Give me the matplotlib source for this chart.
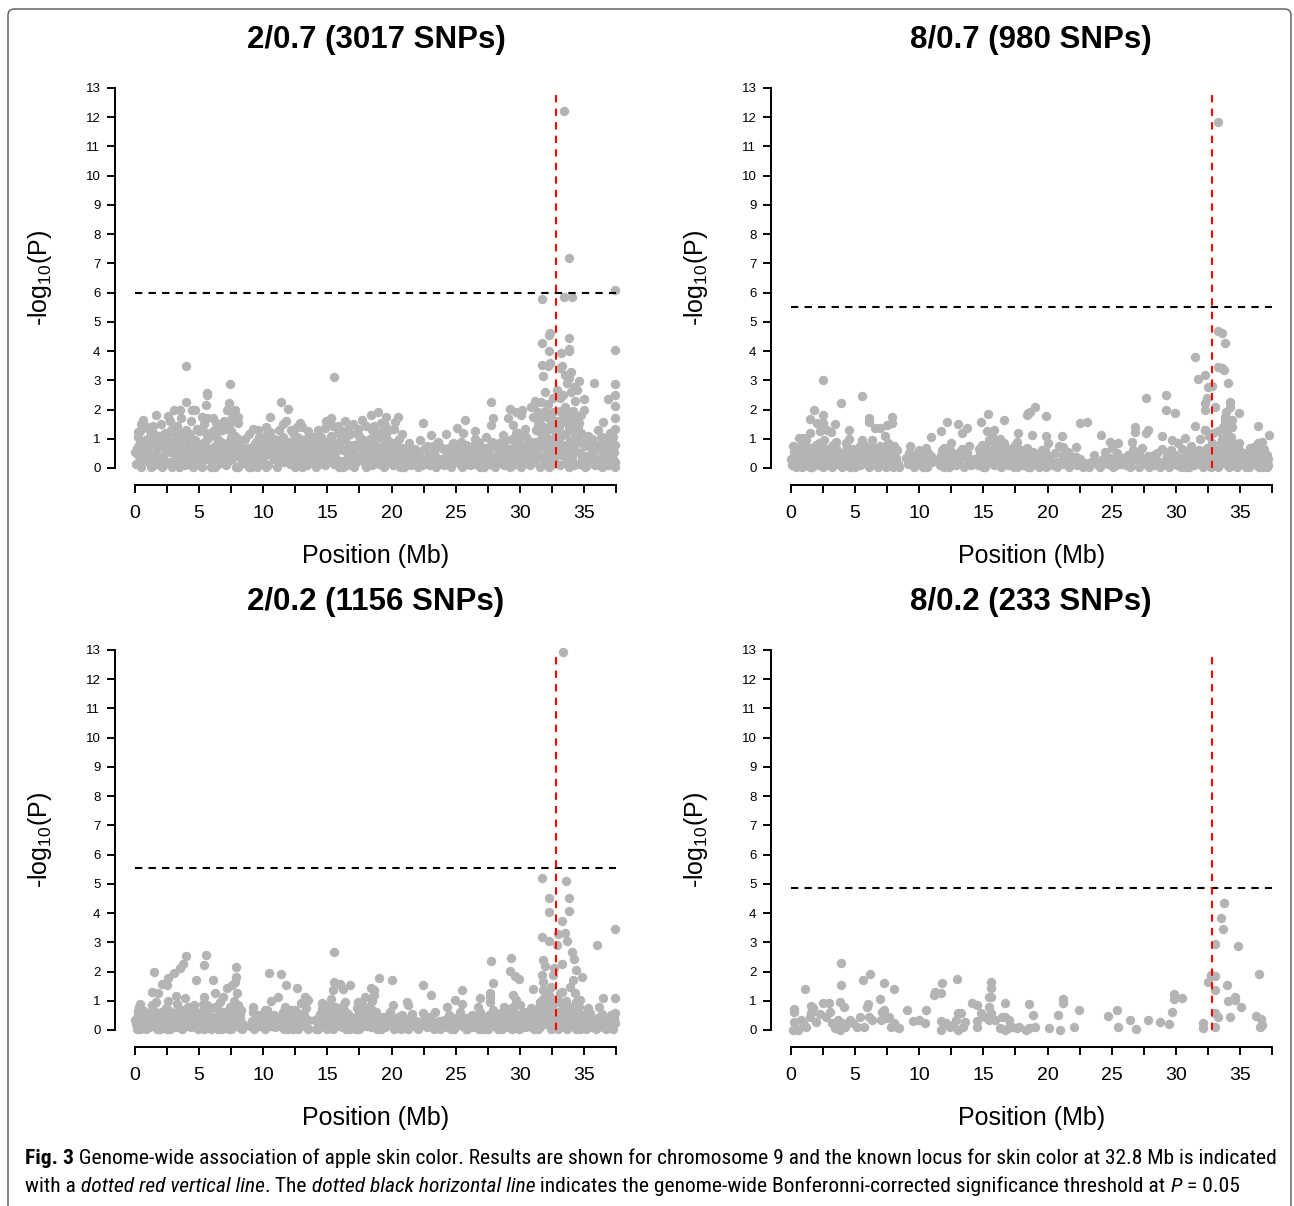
import matplotlib
matplotlib.use("Agg")
import matplotlib.pyplot as plt
from matplotlib import font_manager as fm
from matplotlib.patches import FancyBboxPatch
from matplotlib.ticker import MultipleLocator

W, H = 1294, 1206

plt.rcParams["font.family"] = ["Liberation Sans", "DejaVu Sans"]
plt.rcParams["mathtext.fontset"] = "custom"
plt.rcParams["mathtext.rm"] = "Liberation Sans"
plt.rcParams["mathtext.default"] = "regular"

GREY = "#b4b4b4"
LOCUS_MB = 32.8     # known skin colour locus
LOCUS_TOP = 12.9    # the red line stops just under the top tick

titles = ["2/0.7 (3017 SNPs)", "8/0.7 (980 SNPs)", "2/0.2 (1156 SNPs)", "8/0.2 (233 SNPs)"]
thresholds = [5.99, 5.50, 5.55, 4.87]

# (position Mb, -log10 P)
snps_2_07 = [
    (0.1, 0.15), (0.2, 0.45), (0.3, 0.8), (0.5, 0.05), (0.6, 0.3), (0.8, 0.6), (0.9, 1.0), (0.4, 1.25),
    (1.1, 0.2), (1.2, 0.5), (1.3, 0.9), (1.5, 0.1), (1.6, 0.35), (1.7, 0.7), (1.9, 1.1), (1.8, 0.25), (1.4, 1.45),
    (2.1, 0.05), (2.2, 0.4), (2.3, 0.75), (2.5, 1.05), (2.6, 0.2), (2.7, 0.55), (2.9, 0.9), (2.8, 1.3),
    (3.1, 0.15), (3.2, 0.5), (3.3, 0.85), (3.5, 1.2), (3.6, 0.3), (3.7, 0.65), (3.9, 0.1), (3.8, 1.0),
    (4.1, 0.4), (4.2, 0.8), (4.3, 1.15), (4.5, 0.05), (4.6, 0.55), (4.7, 0.95), (4.9, 0.25), (4.8, 1.35), (4.4, 1.6),
    (5.1, 0.1), (5.2, 0.45), (5.3, 0.85), (5.5, 1.2), (5.6, 0.3), (5.7, 0.7), (5.9, 0.05), (5.8, 1.05), (5.4, 1.5),
    (6.1, 0.35), (6.2, 0.75), (6.3, 1.1), (6.5, 0.15), (6.6, 0.55), (6.7, 0.9), (6.9, 0.25), (6.8, 1.3),
    (7.1, 0.1), (7.2, 0.5), (7.3, 0.9), (7.5, 1.25), (7.6, 0.3), (7.7, 0.7), (7.9, 0.05), (7.8, 1.1), (7.4, 1.55), (7.6, 1.75),
    (8.1, 0.4), (8.2, 0.8), (8.3, 0.15), (8.5, 0.6), (8.6, 1.0), (8.7, 0.3), (8.9, 0.05), (8.8, 0.7),
    (9.1, 0.2), (9.2, 0.55), (9.4, 0.9), (9.5, 0.05), (9.6, 0.35), (9.8, 0.7), (9.9, 0.15), (9.7, 1.05),
    (10.1, 0.45), (10.2, 0.8), (10.4, 0.1), (10.5, 0.6), (10.6, 0.95), (10.8, 0.3), (10.9, 0.7), (10.3, 1.15),
    (11.1, 0.05), (11.2, 0.4), (11.3, 0.75), (11.5, 1.05), (11.6, 0.2), (11.7, 0.6), (11.9, 0.9), (11.8, 0.3),
    (12.1, 0.15), (12.2, 0.5), (12.4, 0.85), (12.5, 0.05), (12.6, 0.35), (12.8, 0.7), (12.9, 1.0), (12.3, 1.2),
    (13.1, 0.3), (13.2, 0.65), (13.4, 0.1), (13.5, 0.45), (13.6, 0.8), (13.8, 0.2), (13.9, 0.55), (13.3, 1.0),
    (14.1, 0.05), (14.2, 0.4), (14.3, 0.75), (14.5, 1.05), (14.6, 0.2), (14.7, 0.6), (14.9, 0.9), (14.8, 0.1),
    (15.1, 0.35), (15.2, 0.7), (15.3, 1.1), (15.5, 0.15), (15.6, 0.5), (15.7, 0.85), (15.9, 0.05), (15.8, 1.2), (15.4, 1.45),
    (16.1, 0.25), (16.2, 0.6), (16.3, 0.95), (16.5, 0.1), (16.6, 0.45), (16.7, 0.8), (16.9, 0.2), (16.8, 1.15),
    (17.1, 0.05), (17.2, 0.4), (17.3, 0.75), (17.5, 1.1), (17.6, 0.3), (17.7, 0.65), (17.9, 0.15), (17.8, 0.95), (17.4, 1.35),
    (18.1, 0.25), (18.2, 0.6), (18.3, 1.0), (18.5, 0.1), (18.6, 0.45), (18.7, 0.8), (18.9, 0.2), (18.8, 1.2),
    (19.1, 0.35), (19.2, 0.7), (19.4, 0.05), (19.5, 0.5), (19.6, 1.05), (19.8, 0.25), (19.9, 0.6), (19.3, 1.3),
    (20.1, 0.1), (20.2, 0.45), (20.4, 0.8), (20.5, 0.2), (20.7, 0.55), (20.9, 0.05), (20.6, 1.0),
    (21.1, 0.3), (21.3, 0.6), (21.5, 0.1), (21.7, 0.4), (21.9, 0.2), (21.4, 0.85),
    (22.1, 0.05), (22.3, 0.35), (22.5, 0.65), (22.7, 0.15), (22.9, 0.45), (22.2, 0.95),
    (23.1, 0.25), (23.3, 0.55), (23.5, 0.05), (23.7, 0.3), (23.9, 0.7), (23.6, 0.9),
    (24.1, 0.1), (24.3, 0.4), (24.5, 0.7), (24.7, 0.2), (24.9, 0.5), (24.4, 0.15),
    (25.1, 0.3), (25.2, 0.6), (25.4, 0.9), (25.5, 0.05), (25.7, 0.4), (25.9, 0.2), (25.6, 1.2),
    (26.1, 0.1), (26.3, 0.5), (26.4, 0.8), (26.6, 0.25), (26.8, 0.6), (26.9, 0.05), (26.5, 1.0),
    (27.1, 0.35), (27.3, 0.7), (27.5, 0.15), (27.6, 0.5), (27.8, 0.9), (27.9, 0.25),
    (28.1, 0.05), (28.2, 0.4), (28.4, 0.75), (28.5, 0.2), (28.7, 0.55), (28.9, 0.95), (28.8, 0.1),
    (29.1, 0.3), (29.2, 0.65), (29.4, 1.0), (29.5, 0.1), (29.6, 0.45), (29.8, 0.8), (29.9, 0.2), (29.7, 1.2),
    (30.1, 0.05), (30.2, 0.4), (30.3, 0.75), (30.5, 1.05), (30.6, 0.25), (30.7, 0.6), (30.9, 0.9), (30.8, 0.1), (30.4, 1.35),
    (31.1, 0.2), (31.2, 0.55), (31.3, 0.9), (31.5, 1.25), (31.6, 0.05), (31.7, 0.4), (31.9, 0.75), (31.8, 1.1), (31.4, 1.5), (31.6, 1.7),
    (32.1, 0.3), (32.2, 0.65), (32.3, 1.0), (32.5, 1.35), (32.6, 0.15), (32.7, 0.5), (32.9, 0.85), (32.8, 1.2), (32.4, 1.65), (32.6, 1.9),
    (33.1, 0.1), (33.2, 0.45), (33.3, 0.8), (33.5, 1.15), (33.6, 0.25), (33.7, 0.6), (33.9, 0.95), (33.8, 1.3), (33.4, 1.6), (33.6, 1.85), (33.5, 2.1),
    (34.1, 0.35), (34.2, 0.7), (34.3, 1.05), (34.5, 1.4), (34.6, 0.15), (34.7, 0.5), (34.9, 0.85), (34.8, 1.2), (34.4, 1.7),
    (35.1, 0.05), (35.2, 0.4), (35.4, 0.75), (35.5, 0.2), (35.7, 0.55), (35.9, 0.1), (35.6, 0.9),
    (36.1, 0.3), (36.2, 0.65), (36.4, 0.05), (36.5, 0.45), (36.7, 0.2), (36.9, 0.6), (36.8, 1.0),
    (37.1, 0.15), (37.2, 0.5), (37.3, 0.3), (37.4, 0.8), (37.3, 1.05), (37.4, 0.05),
    (0.9, 1.4), (1.2, 1.25), (2.0, 1.5), (2.3, 1.2), (3.3, 1.45), (4.0, 1.3), (5.0, 1.25), (6.5, 1.45),
    (6.9, 1.6), (0.5, 1.5), (2.7, 1.6), (3.6, 1.7), (5.2, 1.75), (6.3, 1.55), (7.0, 1.35),
    (14.3, 1.3), (15.0, 1.5), (15.8, 1.45), (16.6, 1.35), (17.0, 1.5), (17.3, 1.2), (18.0, 1.45),
    (18.5, 1.3), (19.2, 1.55), (19.8, 1.3), (20.2, 1.35),
    (9.6, 1.3), (10.2, 1.4), (11.5, 1.5), (12.2, 1.3), (13.5, 1.25), (12.9, 1.55),
    (3.97, 3.49), (7.38, 2.87), (15.5, 3.1), (5.6, 2.56), (5.6, 2.5), (3.97, 2.27), (5.5, 2.16),
    (3.07, 1.98), (3.5, 1.98), (4.7, 2.0), (4.45, 1.98), (7.35, 2.24), (7.8, 2.0), (7.15, 1.97),
    (11.4, 2.27), (11.9, 2.02), (10.5, 1.73), (11.8, 1.61), (9.2, 1.33), (1.6, 1.83), (2.55, 1.78),
    (0.65, 1.64), (0.27, 1.24), (6.1, 1.72), (5.6, 1.72), (8.0, 1.76), (8.0, 1.53), (15.3, 1.7),
    (14.9, 1.6), (16.4, 1.6), (14.8, 1.37), (16.0, 1.3), (17.7, 1.64), (18.4, 1.81), (12.6, 1.41),
    (13.0, 1.41), (10.5, 1.22), (11.25, 1.3),
    (22.46, 1.53), (23.1, 1.13), (24.25, 1.16), (20.8, 1.15), (18.97, 1.9), (19.6, 1.76), (20.5, 1.76),
    (18.6, 1.42), (19.5, 1.48), (20.3, 1.59), (25.1, 1.36), (26.5, 1.25), (28.7, 1.13), (29.85, 1.19),
    (27.75, 2.26), (27.9, 1.7), (27.75, 1.47), (25.7, 1.64), (29.2, 2.02), (29.1, 1.7), (29.5, 1.47),
    (29.7, 1.92), (30.2, 1.98), (30.1, 1.81), (30.9, 2.1), (31.1, 2.16), (31.65, 2.27), (31.4, 1.92),
    (33.46, 12.2), (33.85, 7.2), (37.46, 6.1), (31.75, 5.78), (33.46, 5.86), (34.04, 5.86),
    (32.35, 4.61), (32.3, 4.55), (31.75, 4.27), (33.85, 4.46), (33.85, 4.07), (33.85, 4.0),
    (33.25, 3.92), (32.27, 4.01), (37.46, 4.04), (31.75, 3.52), (32.35, 3.58), (32.2, 3.49),
    (33.1, 3.41), (33.3, 3.49), (31.83, 3.16), (33.5, 3.19), (34.0, 3.3), (33.85, 3.09),
    (34.65, 2.98), (34.2, 2.78), (34.45, 2.67), (35.8, 2.9), (37.46, 2.86), (37.46, 2.5),
    (37.4, 2.12), (36.9, 2.35), (37.4, 1.7), (37.46, 1.35), (36.5, 1.58), (32.0, 2.61),
    (32.9, 2.67), (32.55, 2.38), (33.1, 2.38), (35.0, 2.35), (35.0, 1.99), (36.1, 1.3), (36.4, 1.07),
    (33.7, 2.9), (34.0, 2.6), (33.4, 2.5), (32.2, 2.2), (34.3, 2.3), (31.2, 2.3), (31.0, 1.75),
    (32.0, 1.95), (33.0, 1.6), (34.8, 1.8),
]

# more of the dense low band in 2/0.7
snps_2_07_band = [
    (0.0, 0.55), (0.25, 1.05), (0.45, 0.25), (0.65, 0.9), (0.85, 0.35), (0.15, 0.7),
    (1.0, 0.75), (1.25, 0.05), (1.45, 1.15), (1.65, 0.5), (1.85, 0.85), (1.05, 0.45),
    (2.0, 0.3), (2.25, 0.95), (2.45, 0.6), (2.65, 1.2), (2.85, 0.05), (2.35, 0.15),
    (3.0, 0.7), (3.25, 1.1), (3.45, 0.05), (3.65, 0.95), (3.85, 0.4), (3.15, 0.3),
    (4.0, 0.6), (4.25, 0.2), (4.45, 0.9), (4.65, 0.3), (4.85, 0.7), (4.05, 1.0),
    (5.0, 0.8), (5.25, 0.05), (5.45, 0.6), (5.65, 1.0), (5.85, 0.45), (5.05, 0.3),
    (6.0, 0.55), (6.25, 0.05), (6.45, 0.95), (6.65, 0.35), (6.85, 0.75), (6.05, 1.25),
    (7.0, 0.7), (7.25, 0.25), (7.45, 1.05), (7.65, 0.55), (7.85, 0.85), (7.05, 0.35),
    (8.0, 1.0), (8.25, 0.6), (8.45, 0.25), (8.65, 0.45), (8.85, 1.15), (8.05, 0.05),
    (9.0, 0.45), (9.25, 0.8), (9.45, 0.25), (9.65, 0.6), (9.85, 1.0), (9.05, 0.05),
    (10.0, 0.25), (10.25, 0.05), (10.45, 0.9), (10.65, 0.4), (10.85, 1.0), (10.05, 0.65),
    (11.0, 0.5), (11.25, 0.95), (11.45, 0.25), (11.65, 0.9), (11.85, 0.55), (11.05, 0.75),
    (12.0, 0.6), (12.25, 0.3), (12.45, 0.65), (12.65, 1.05), (12.85, 0.25), (12.05, 0.9),
    (13.0, 0.05), (13.25, 0.85), (13.45, 0.6), (13.65, 0.35), (13.85, 1.05), (13.05, 0.5),
    (14.0, 0.6), (14.25, 0.15), (14.45, 0.5), (14.65, 0.85), (14.85, 0.4), (14.05, 1.0),
    (15.0, 0.55), (15.25, 0.25), (15.45, 0.9), (15.65, 0.3), (15.85, 0.65), (15.05, 0.9),
    (16.0, 0.7), (16.25, 0.05), (16.45, 1.05), (16.65, 0.25), (16.85, 0.6), (16.05, 1.1),
    (17.0, 0.55), (17.25, 0.2), (17.45, 0.85), (17.65, 1.0), (17.85, 0.45), (17.05, 0.8),
    (18.0, 0.05), (18.25, 0.9), (18.45, 0.35), (18.65, 1.1), (18.85, 0.55), (18.05, 0.75),
    (19.0, 0.15), (19.25, 0.5), (19.45, 0.85), (19.65, 0.2), (19.85, 0.9), (19.05, 1.05),
    (20.0, 0.6), (20.25, 0.85), (20.45, 0.35), (20.65, 0.05), (20.85, 0.7), (20.05, 0.3),
    (21.0, 0.05), (21.25, 0.45), (21.6, 0.2), (21.8, 0.65),
    (22.0, 0.5), (22.4, 0.1), (22.6, 0.3), (22.8, 0.75),
    (23.0, 0.1), (23.4, 0.4), (23.8, 0.2), (23.2, 0.75),
    (24.0, 0.3), (24.2, 0.6), (24.6, 0.05), (24.8, 0.85),
    (25.0, 0.7), (25.3, 0.15), (25.6, 0.55), (25.8, 0.8), (25.35, 0.45),
    (26.0, 0.35), (26.2, 0.7), (26.45, 0.15), (26.7, 0.4), (26.85, 0.9),
    (27.0, 0.6), (27.2, 0.05), (27.45, 0.3), (27.7, 0.75), (27.85, 0.1), (27.4, 1.05),
    (28.0, 0.3), (28.3, 0.6), (28.55, 0.9), (28.65, 0.35), (28.85, 0.7), (28.0, 0.85),
    (29.0, 0.5), (29.25, 0.05), (29.45, 0.7), (29.65, 0.25), (29.85, 0.95), (29.3, 0.35),
    (30.0, 0.65), (30.25, 0.15), (30.45, 0.5), (30.65, 0.85), (30.85, 0.35), (30.15, 1.15),
    (31.0, 0.85), (31.25, 0.35), (31.45, 0.7), (31.65, 1.0), (31.85, 0.25), (31.05, 0.55), (31.3, 1.3), (31.75, 1.45),
    (32.0, 0.45), (32.25, 0.05), (32.45, 0.8), (32.65, 0.3), (32.85, 1.05), (32.05, 1.25), (32.35, 1.45),
    (32.75, 1.6), (32.15, 1.75),
    (33.0, 0.65), (33.25, 1.1), (33.45, 0.4), (33.65, 0.8), (33.85, 0.05), (33.05, 1.4), (33.35, 1.85),
    (33.75, 1.5), (33.95, 1.75), (33.15, 1.95),
    (34.0, 0.55), (34.25, 0.1), (34.45, 0.9), (34.65, 1.1), (34.85, 0.3), (34.05, 1.3), (34.35, 1.5),
    (34.6, 1.55), (34.15, 1.95),
    (35.0, 0.75), (35.25, 0.1), (35.45, 0.45), (35.65, 1.0), (35.85, 0.3), (35.3, 1.1),
    (36.0, 0.8), (36.25, 0.15), (36.45, 0.85), (36.65, 0.4), (36.85, 0.1), (36.3, 1.05),
    (37.0, 0.4), (37.15, 0.85), (37.35, 0.55), (37.45, 0.2), (37.05, 1.2),
]

snps_8_07 = [
    (0.1, 0.1), (0.3, 0.35), (0.5, 0.6), (0.7, 0.2), (0.9, 0.45), (0.4, 0.05), (0.8, 0.8),
    (1.1, 0.15), (1.3, 0.4), (1.5, 0.7), (1.6, 0.05), (1.8, 0.3), (1.9, 0.55), (1.2, 0.95),
    (2.1, 0.2), (2.3, 0.5), (2.5, 0.05), (2.6, 0.3), (2.8, 0.65), (2.9, 0.1), (2.2, 0.85),
    (3.1, 0.4), (3.2, 0.05), (3.4, 0.25), (3.6, 0.6), (3.7, 0.15), (3.9, 0.45), (3.5, 0.9),
    (4.1, 0.1), (4.3, 0.35), (4.4, 0.7), (4.6, 0.05), (4.7, 0.5), (4.9, 0.2), (4.5, 1.0),
    (5.1, 0.3), (5.2, 0.6), (5.4, 0.1), (5.6, 0.4), (5.8, 0.75), (5.9, 0.15), (5.5, 0.95),
    (6.1, 0.05), (6.2, 0.45), (6.4, 0.2), (6.5, 0.7), (6.7, 0.3), (6.9, 0.55), (6.6, 0.1), (6.3, 0.95),
    (7.1, 0.25), (7.2, 0.65), (7.4, 0.05), (7.5, 0.4), (7.7, 0.15), (7.9, 0.55), (7.6, 0.85), (7.3, 1.1),
    (8.1, 0.1), (8.2, 0.35), (8.3, 0.6), (8.4, 0.05),
    (9.1, 0.15), (9.2, 0.5), (9.3, 0.75), (9.6, 0.05), (9.8, 0.3), (9.4, 0.25),
    (10.0, 0.6), (10.2, 0.15), (10.4, 0.4), (10.6, 0.05), (10.8, 0.3), (10.5, 0.7), (11.0, 0.2),
    (11.6, 0.1), (11.7, 0.45), (11.9, 0.7), (11.8, 0.2),
    (12.1, 0.35), (12.3, 0.05), (12.4, 0.6), (12.6, 0.2), (12.8, 0.45), (12.9, 0.1), (12.5, 0.85),
    (13.1, 0.3), (13.3, 0.65), (13.5, 0.05), (13.6, 0.4), (13.8, 0.15), (13.9, 0.75), (14.0, 0.3),
    (14.6, 0.1), (14.7, 0.45), (14.9, 0.8), (14.8, 0.25),
    (15.1, 0.05), (15.2, 0.35), (15.3, 0.65), (15.4, 0.95), (15.5, 0.2), (15.6, 0.5), (15.8, 0.1),
    (15.9, 0.75), (15.7, 1.1), (15.3, 1.25),
    (16.1, 0.3), (16.2, 0.6), (16.4, 0.05), (16.5, 0.4), (16.6, 0.85), (16.8, 0.15), (16.9, 0.55), (16.3, 1.0),
    (17.1, 0.25), (17.2, 0.7), (17.4, 0.05), (17.5, 0.45), (17.7, 0.2), (17.9, 0.6), (17.6, 0.9),
    (18.1, 0.1), (18.2, 0.4), (18.4, 0.7), (18.6, 0.05), (18.7, 0.3), (18.9, 0.55), (18.5, 0.2),
    (19.2, 0.15), (19.4, 0.45), (19.6, 0.25), (19.8, 0.6), (19.9, 0.05),
    (20.2, 0.3), (20.4, 0.1), (20.6, 0.5), (20.8, 0.2), (20.9, 0.75),
    (21.3, 0.15), (21.5, 0.35), (21.7, 0.05), (21.9, 0.25), (21.6, 0.55),
    (22.3, 0.1), (22.5, 0.3), (22.8, 0.05),
    (23.4, 0.2), (23.6, 0.45), (23.9, 0.1),
    (24.3, 0.3), (24.5, 0.55), (24.7, 0.15), (24.9, 0.35),
    (25.1, 0.05), (25.2, 0.25), (25.4, 0.5), (25.7, 0.15), (25.9, 0.35),
    (26.1, 0.1), (26.3, 0.45), (26.5, 0.2), (26.7, 0.6), (26.8, 0.3), (26.6, 0.9),
    (27.1, 0.05), (27.3, 0.25), (27.4, 0.7), (27.6, 0.15), (27.8, 0.4), (27.9, 0.05),
    (28.2, 0.3), (28.4, 0.1), (28.5, 0.5), (28.7, 0.2), (28.9, 0.65),
    (29.1, 0.15), (29.3, 0.4), (29.5, 0.05), (29.6, 0.6), (29.8, 0.25), (29.9, 0.45),
    (30.1, 0.1), (30.3, 0.35), (30.5, 0.65), (30.6, 0.2), (30.8, 0.05), (30.9, 0.5),
    (31.1, 0.3), (31.2, 0.75), (31.4, 0.1), (31.5, 0.45), (31.7, 0.2), (31.8, 0.6), (31.9, 1.0),
    (32.1, 0.05), (32.2, 0.35), (32.4, 0.7), (32.5, 0.15), (32.6, 1.1), (32.7, 0.45), (32.9, 0.25),
    (32.3, 1.3), (32.8, 0.85),
    (33.1, 0.6), (33.2, 0.1), (33.4, 0.4), (33.5, 0.85), (33.6, 1.0), (33.7, 0.2), (33.9, 0.55),
    (33.3, 1.25), (33.8, 1.6), (33.9, 1.9),
    (34.1, 0.3), (34.2, 0.7), (34.3, 1.05), (34.5, 0.1), (34.6, 0.45), (34.7, 0.25), (34.9, 0.6), (34.4, 1.4),
    (35.1, 0.15), (35.3, 0.5), (35.5, 0.05), (35.6, 0.3), (35.8, 0.7), (35.9, 0.2),
    (36.1, 0.4), (36.3, 0.1), (36.5, 0.55), (36.6, 0.3), (36.8, 0.05), (36.9, 0.65), (36.7, 0.9),
    (37.0, 0.2), (37.1, 0.45), (37.2, 0.1), (37.2, 0.3),
    (2.52, 3.01), (3.9, 2.21), (5.5, 2.46), (1.8, 1.98), (2.52, 1.81), (2.52, 1.55), (1.48, 1.66),
    (2.0, 1.53), (2.77, 1.3), (2.25, 1.25), (6.1, 1.7), (6.1, 1.59), (6.9, 1.36), (7.45, 1.47),
    (7.9, 1.76), (7.85, 1.53), (12.2, 1.59), (13.0, 1.49), (13.7, 1.36), (11.7, 1.25), (10.95, 1.05),
    (13.35, 1.21), (15.38, 1.85), (14.8, 1.59), (16.6, 1.64), (15.8, 1.3), (17.66, 1.21), (18.5, 1.89),
    (0.6, 1.01), (0.95, 1.01), (1.5, 1.2), (3.44, 1.5), (3.1, 1.24), (4.56, 1.3), (6.55, 1.36),
    (27.7, 2.38), (29.2, 2.5), (29.27, 1.98), (29.9, 1.87), (26.8, 1.41), (26.8, 1.24), (27.8, 1.3),
    (27.7, 1.19), (28.9, 1.08), (29.7, 0.96), (30.2, 0.84), (30.7, 1.02), (24.2, 1.13), (24.86, 0.9),
    (25.5, 0.84), (25.0, 0.68), (22.5, 1.53), (23.1, 1.58), (19.9, 1.78), (19.0, 2.1), (18.6, 1.93),
    (18.4, 1.81), (18.8, 1.13), (19.9, 1.08), (20.0, 0.84), (21.1, 1.08), (21.2, 0.73), (22.2, 0.73),
    (22.9, 0.16), (22.2, 0.39), (21.2, 0.45),
    (33.3, 11.85), (33.3, 4.7), (33.6, 4.61), (33.8, 4.27), (31.5, 3.79), (33.26, 3.47), (33.57, 3.41),
    (33.77, 3.35), (31.7, 3.03), (32.27, 3.18), (34.1, 2.92), (32.5, 2.76), (32.8, 2.81), (32.4, 2.38),
    (32.27, 2.21), (33.05, 2.1), (32.27, 1.98), (34.2, 2.27), (34.2, 2.1), (34.9, 1.87), (34.35, 1.65),
    (33.83, 1.76), (31.5, 1.44), (32.3, 1.3), (32.9, 1.19), (33.7, 1.41), (34.0, 1.19), (34.3, 0.96),
    (34.9, 0.84), (36.4, 1.44), (37.3, 1.13), (36.4, 0.84), (36.1, 0.73),
]

snps_8_07_band = [
    (0.0, 0.3), (0.2, 0.55), (0.45, 0.2), (0.6, 0.4), (0.85, 0.05), (0.15, 0.75),
    (1.0, 0.5), (1.25, 0.2), (1.45, 0.05), (1.7, 0.45), (1.95, 0.8), (1.35, 0.65),
    (2.0, 0.35), (2.2, 0.1), (2.45, 0.7), (2.65, 0.45), (2.95, 0.3), (2.55, 0.95),
    (3.0, 0.2), (3.25, 0.6), (3.45, 0.45), (3.75, 0.35), (3.95, 0.05), (3.3, 0.8),
    (4.0, 0.5), (4.2, 0.25), (4.45, 0.15), (4.65, 0.35), (4.85, 0.65), (4.25, 0.85),
    (5.0, 0.05), (5.3, 0.4), (5.45, 0.25), (5.7, 0.55), (5.95, 0.4), (5.35, 0.75),
    (6.0, 0.3), (6.3, 0.2), (6.45, 0.45), (6.75, 0.05), (6.95, 0.75), (6.15, 0.65),
    (7.0, 0.45), (7.3, 0.3), (7.55, 0.2), (7.8, 0.35), (7.95, 0.05), (7.65, 0.6),
    (8.0, 0.55), (8.15, 0.25), (8.35, 0.15), (8.05, 0.75),
    (9.0, 0.35), (9.5, 0.45), (9.7, 0.15), (9.9, 0.55),
    (10.1, 0.35), (10.3, 0.05), (10.7, 0.5), (10.9, 0.4),
    (11.5, 0.3), (11.75, 0.6), (11.95, 0.05),
    (12.0, 0.55), (12.2, 0.2), (12.7, 0.35), (12.35, 0.4),
    (13.0, 0.5), (13.2, 0.15), (13.4, 0.45), (13.7, 0.55), (14.05, 0.1),
    (14.5, 0.35), (14.65, 0.65), (14.95, 0.05), (14.85, 0.55),
    (15.0, 0.45), (15.15, 0.75), (15.45, 0.55), (15.65, 0.3), (15.85, 0.9), (15.95, 0.35),
    (16.0, 0.15), (16.25, 0.45), (16.45, 0.75), (16.7, 0.3), (16.95, 0.1), (16.75, 0.65),
    (17.0, 0.5), (17.3, 0.35), (17.45, 0.8), (17.65, 0.05), (17.8, 0.4), (17.95, 0.25),
    (18.0, 0.55), (18.3, 0.25), (18.45, 0.05), (18.65, 0.5), (18.8, 0.15),
    (19.05, 0.35), (19.3, 0.05), (19.55, 0.6), (20.0, 0.4), (20.3, 0.2), (20.7, 0.05),
    (21.1, 0.25), (21.8, 0.4), (22.0, 0.15), (23.2, 0.05), (23.7, 0.25), (24.1, 0.05), (24.6, 0.3),
    (25.3, 0.1), (25.6, 0.3), (26.0, 0.25), (26.4, 0.05), (26.9, 0.5), (27.2, 0.4), (27.5, 0.25),
    (28.0, 0.15), (28.3, 0.45), (28.8, 0.05), (29.2, 0.3), (29.4, 0.2), (30.0, 0.3), (30.4, 0.05),
    (30.7, 0.35),
    (31.0, 0.05), (31.3, 0.5), (31.6, 0.35), (31.9, 0.15), (32.0, 0.5), (32.3, 0.15), (32.45, 0.55),
    (32.75, 0.05), (32.95, 0.6), (33.0, 0.3), (33.3, 0.05), (33.45, 0.65), (33.65, 0.35), (33.85, 0.8),
    (33.95, 0.15), (34.0, 0.45), (34.15, 0.05), (34.4, 0.55), (34.65, 0.8), (34.8, 0.05), (34.95, 0.35),
    (35.2, 0.25), (35.4, 0.4), (35.7, 0.05), (35.95, 0.45), (36.2, 0.2), (36.45, 0.05), (36.75, 0.35),
    (37.1, 0.05),
]

snps_2_02 = [
    (0.1, 0.2), (0.2, 0.5), (0.4, 0.05), (0.5, 0.35), (0.7, 0.65), (0.8, 0.15), (0.9, 0.45), (0.3, 0.8),
    (1.1, 0.1), (1.2, 0.4), (1.4, 0.7), (1.5, 0.25), (1.7, 0.05), (1.8, 0.55), (1.9, 0.3), (1.6, 0.95),
    (2.1, 0.15), (2.2, 0.45), (2.4, 0.75), (2.5, 0.05), (2.7, 0.35), (2.8, 0.6), (2.9, 0.2), (2.6, 1.0),
    (3.1, 0.5), (3.2, 0.1), (3.4, 0.3), (3.5, 0.7), (3.7, 0.05), (3.8, 0.45), (3.9, 0.2), (3.3, 0.9),
    (4.1, 0.35), (4.2, 0.65), (4.4, 0.1), (4.5, 0.4), (4.7, 0.2), (4.8, 0.55), (4.9, 0.05), (4.6, 0.85),
    (5.1, 0.25), (5.2, 0.6), (5.4, 0.05), (5.5, 0.4), (5.7, 0.15), (5.8, 0.7), (5.9, 0.3), (5.3, 0.9),
    (6.1, 0.1), (6.2, 0.45), (6.4, 0.75), (6.5, 0.2), (6.7, 0.55), (6.8, 0.05), (6.9, 0.35), (6.6, 0.95),
    (7.1, 0.15), (7.2, 0.5), (7.4, 0.8), (7.5, 0.05), (7.6, 0.35), (7.8, 0.65), (7.9, 0.25), (7.7, 1.0),
    (8.1, 0.1), (8.2, 0.4), (8.3, 0.7), (8.4, 0.2),
    (9.1, 0.3), (9.2, 0.6), (9.3, 0.05), (9.5, 0.4), (9.7, 0.15), (9.8, 0.5), (9.9, 0.25),
    (10.1, 0.05), (10.2, 0.35), (10.4, 0.55), (10.5, 0.15), (10.7, 0.4), (10.9, 0.1),
    (11.3, 0.3), (11.5, 0.6), (11.6, 0.05), (11.8, 0.4), (11.9, 0.2), (11.7, 0.8),
    (12.1, 0.1), (12.2, 0.45), (12.4, 0.25), (12.5, 0.7), (12.7, 0.05), (12.8, 0.35), (12.9, 0.55),
    (13.1, 0.2), (13.2, 0.5), (13.4, 0.1), (13.5, 0.35), (13.3, 0.75),
    (14.1, 0.05), (14.2, 0.3), (14.4, 0.55), (14.5, 0.15), (14.7, 0.4), (14.8, 0.7), (14.9, 0.1),
    (15.1, 0.25), (15.2, 0.6), (15.4, 0.05), (15.5, 0.35), (15.6, 0.8), (15.7, 0.15), (15.9, 0.5), (15.3, 1.05),
    (16.1, 0.1), (16.2, 0.4), (16.3, 0.7), (16.5, 0.2), (16.6, 0.55), (16.8, 0.05), (16.9, 0.3), (16.4, 0.95),
    (17.1, 0.15), (17.2, 0.45), (17.3, 0.75), (17.5, 0.05), (17.6, 0.3), (17.8, 0.6), (17.9, 0.2), (17.7, 0.9),
    (18.1, 0.35), (18.2, 0.65), (18.4, 0.1), (18.5, 0.45), (18.7, 0.25), (18.9, 0.05), (18.8, 0.6),
    (19.1, 0.2), (19.3, 0.45), (19.5, 0.1), (19.7, 0.3), (19.9, 0.6),
    (20.2, 0.05), (20.4, 0.35), (20.6, 0.15), (20.8, 0.5), (20.9, 0.25),
    (21.1, 0.1), (21.4, 0.3), (21.6, 0.55), (21.8, 0.15),
    (22.1, 0.05), (22.3, 0.25), (22.6, 0.4), (22.8, 0.1),
    (23.2, 0.3), (23.5, 0.15), (23.8, 0.05),
    (24.1, 0.35), (24.3, 0.1), (24.5, 0.5), (24.7, 0.2), (24.9, 0.05),
    (25.1, 0.3), (25.3, 0.6), (25.5, 0.15), (25.7, 0.4), (25.9, 0.05),
    (26.1, 0.25), (26.3, 0.5), (26.5, 0.1), (26.7, 0.35), (26.9, 0.6),
    (27.1, 0.15), (27.3, 0.45), (27.5, 0.05), (27.7, 0.3), (27.9, 0.7),
    (28.1, 0.2), (28.3, 0.05), (28.5, 0.35), (28.7, 0.15), (28.9, 0.5),
    (29.1, 0.1), (29.3, 0.4), (29.5, 0.2), (29.7, 0.55), (29.9, 0.05),
    (30.1, 0.3), (30.3, 0.6), (30.4, 0.1), (30.6, 0.35), (30.8, 0.2), (30.9, 0.75),
    (31.1, 0.05), (31.2, 0.45), (31.4, 0.25), (31.5, 0.8), (31.6, 0.1), (31.7, 0.55), (31.9, 0.35), (31.8, 1.05),
    (32.1, 0.2), (32.2, 0.65), (32.4, 0.05), (32.5, 0.4), (32.6, 0.9), (32.7, 0.15), (32.9, 0.5), (32.3, 1.2), (32.8, 0.3),
    (33.1, 0.1), (33.2, 0.45), (33.4, 0.75), (33.5, 0.25), (33.6, 1.0), (33.7, 0.05), (33.9, 0.55), (33.3, 1.3), (33.8, 0.35),
    (34.1, 0.2), (34.2, 0.6), (34.4, 0.05), (34.5, 0.4), (34.6, 0.8), (34.8, 0.15), (34.9, 0.5),
    (35.1, 0.25), (35.2, 0.05), (35.4, 0.35), (35.6, 0.1), (35.8, 0.2),
    (36.1, 0.4), (36.2, 0.1), (36.4, 0.55), (36.5, 0.25), (36.7, 0.05), (36.9, 0.35),
    (37.0, 0.15), (37.1, 0.5), (37.2, 0.25), (37.3, 0.05),
    (15.54, 2.68), (3.98, 2.53), (5.53, 2.57), (5.38, 2.22), (3.77, 2.25), (3.51, 2.11), (1.51, 1.99),
    (3.04, 1.94), (2.55, 1.77), (7.87, 2.16), (7.87, 1.82), (7.8, 1.65), (7.53, 1.54), (7.14, 1.42),
    (7.93, 1.25), (4.73, 1.71), (6.1, 1.71), (5.4, 1.14), (6.24, 1.28), (6.88, 1.14), (2.08, 1.56),
    (2.47, 1.54), (1.3, 1.31), (1.82, 1.25), (3.2, 1.16), (3.9, 1.08), (0.39, 0.89), (10.47, 1.96),
    (11.35, 1.92), (11.77, 1.54), (12.6, 1.42), (13.25, 1.14), (13.46, 1.03), (12.94, 0.91),
    (10.57, 1.0), (11.17, 1.14), (9.22, 0.8), (10.13, 0.68), (15.54, 1.65), (15.98, 1.57),
    (16.24, 1.39), (16.76, 1.54), (15.46, 1.37), (14.55, 0.91), (15.14, 0.85), (17.4, 0.97),
    (18.6, 1.37), (17.93, 1.14), (18.5, 0.68),
    (27.75, 2.36), (29.28, 2.47), (29.2, 2.02), (29.6, 1.85), (29.93, 1.74), (27.9, 1.62),
    (27.67, 1.25), (27.67, 1.14), (25.46, 1.37), (23.1, 1.2), (22.47, 1.54), (20.0, 1.71),
    (19.04, 1.77), (18.4, 1.43), (18.6, 1.2), (18.5, 1.0), (29.5, 1.2), (29.7, 1.03), (29.45, 0.8),
    (28.8, 0.8), (28.5, 0.57), (30.0, 0.86), (30.6, 0.46), (24.95, 1.03), (25.46, 0.88), (24.3, 0.8),
    (26.9, 1.08), (26.76, 0.8), (27.67, 0.97), (28.84, 0.74), (21.2, 0.97), (21.3, 0.86), (20.1, 0.86),
    (22.47, 0.57), (23.4, 0.63), (23.0, 0.17), (23.77, 0.17),
    (33.36, 12.93), (31.75, 5.21), (33.57, 5.1), (32.27, 4.5), (33.85, 4.5), (32.27, 4.05),
    (33.85, 4.08), (33.26, 3.73), (31.75, 3.19), (32.27, 3.05), (33.0, 3.28), (33.5, 3.32),
    (33.7, 3.05), (32.87, 2.91), (37.46, 3.47), (36.0, 2.91), (34.1, 2.68), (34.25, 2.42),
    (31.8, 2.4), (32.0, 2.19), (32.7, 2.11), (33.26, 2.25), (32.55, 1.88), (34.4, 2.05),
    (34.86, 1.82), (34.15, 1.71), (33.9, 1.48), (34.3, 1.25), (34.7, 1.02), (31.7, 1.88),
    (31.8, 1.65), (31.8, 1.37), (32.46, 1.48), (32.3, 1.14), (32.7, 1.03), (33.1, 1.25),
    (33.26, 0.91), (31.0, 1.39), (36.5, 1.11), (37.46, 1.11), (36.2, 0.8), (37.46, 0.57),
    (37.4, 0.23), (35.3, 0.74), (35.45, 0.57),
]

snps_2_02_band = [
    (0.0, 0.35), (0.25, 0.65), (0.45, 0.2), (0.6, 0.5), (0.85, 0.05), (0.15, 0.05),
    (1.0, 0.55), (1.25, 0.2), (1.45, 0.45), (1.65, 0.3), (1.95, 0.05), (1.35, 0.85),
    (2.0, 0.6), (2.3, 0.25), (2.45, 0.35), (2.75, 0.05), (2.95, 0.45), (2.55, 0.7),
    (3.0, 0.25), (3.25, 0.6), (3.45, 0.15), (3.65, 0.5), (3.85, 0.7), (3.95, 0.35),
    (4.0, 0.15), (4.3, 0.5), (4.45, 0.25), (4.65, 0.65), (4.95, 0.35), (4.15, 0.8),
    (5.0, 0.5), (5.3, 0.3), (5.45, 0.2), (5.65, 0.55), (5.95, 0.05), (5.6, 0.85),
    (6.0, 0.4), (6.3, 0.25), (6.45, 0.05), (6.7, 0.35), (6.95, 0.6), (6.25, 0.8),
    (7.0, 0.35), (7.3, 0.2), (7.45, 0.55), (7.7, 0.4), (7.95, 0.5), (7.35, 0.05),
    (8.0, 0.3), (8.15, 0.55), (8.35, 0.05), (8.05, 0.85),
    (9.0, 0.15), (9.4, 0.25), (9.6, 0.5), (9.95, 0.4),
    (10.0, 0.3), (10.3, 0.2), (10.6, 0.25), (10.8, 0.5), (10.3, 0.7),
    (11.2, 0.15), (11.4, 0.45), (11.65, 0.3), (11.95, 0.05),
    (12.0, 0.35), (12.3, 0.05), (12.6, 0.4), (12.95, 0.15), (12.2, 0.7),
    (13.0, 0.4), (13.3, 0.25), (13.5, 0.05),
    (14.0, 0.35), (14.3, 0.05), (14.35, 0.45), (14.6, 0.25), (14.9, 0.55), (14.6, 0.75),
    (15.0, 0.05), (15.3, 0.45), (15.45, 0.2), (15.7, 0.45), (15.95, 0.25), (15.5, 0.7),
    (16.0, 0.35), (16.25, 0.6), (16.45, 0.05), (16.7, 0.4), (16.95, 0.15), (16.15, 0.8),
    (17.0, 0.4), (17.25, 0.05), (17.4, 0.35), (17.65, 0.5), (17.95, 0.4), (17.45, 0.65),
    (18.0, 0.15), (18.3, 0.5), (18.45, 0.25), (18.65, 0.4), (18.95, 0.3), (18.25, 0.8),
    (19.0, 0.4), (19.2, 0.05), (19.6, 0.2), (19.8, 0.5), (20.0, 0.3), (20.5, 0.45), (20.7, 0.05),
    (21.0, 0.4), (21.3, 0.05), (21.9, 0.3), (22.2, 0.15), (22.45, 0.3), (23.0, 0.45), (23.3, 0.05),
    (23.7, 0.3), (24.0, 0.2), (24.4, 0.3), (24.6, 0.05), (24.8, 0.4), (25.0, 0.2), (25.2, 0.45),
    (25.6, 0.25), (25.8, 0.05), (26.0, 0.4), (26.2, 0.1), (26.4, 0.35), (26.6, 0.2), (26.8, 0.05),
    (27.0, 0.3), (27.2, 0.05), (27.4, 0.25), (27.6, 0.5), (27.8, 0.15),
    (28.0, 0.35), (28.2, 0.5), (28.4, 0.2), (28.6, 0.05), (28.8, 0.35), (29.0, 0.25), (29.2, 0.6),
    (29.4, 0.05), (29.6, 0.35), (29.8, 0.2), (30.0, 0.5), (30.2, 0.15), (30.5, 0.25), (30.7, 0.55),
    (30.9, 0.1),
    (31.0, 0.3), (31.3, 0.6), (31.45, 0.05), (31.65, 0.35), (31.85, 0.7), (31.55, 0.95),
    (32.0, 0.5), (32.25, 0.25), (32.45, 0.75), (32.65, 0.4), (32.95, 0.05), (32.15, 0.95),
    (33.0, 0.6), (33.25, 0.2), (33.45, 0.5), (33.65, 0.3), (33.85, 0.8), (33.05, 0.95),
    (34.0, 0.4), (34.3, 0.25), (34.45, 0.65), (34.7, 0.05), (34.95, 0.25), (34.35, 0.95),
    (35.0, 0.1), (35.3, 0.45), (35.5, 0.2), (35.7, 0.35), (35.95, 0.05),
    (36.0, 0.2), (36.3, 0.3), (36.6, 0.4), (36.85, 0.15), (37.15, 0.3), (37.35, 0.4),
]

snps_8_02 = [
    (0.21, 0.72), (0.26, 0.6), (0.26, 0.29), (0.13, 0.0), (0.53, 0.0), (0.92, 0.23), (1.18, 0.11), (0.79, 0.34),
    (1.13, 1.39), (1.58, 0.83), (1.71, 0.74), (1.58, 0.57), (1.45, 0.46), (1.97, 0.29), (2.24, 0.55),
    (2.5, 0.91), (2.97, 0.91), (3.03, 0.6), (2.76, 0.46), (3.16, 0.23), (3.42, 0.06), (3.82, 0.0),
    (4.21, 0.11), (3.95, 0.23), (3.68, 0.34), (4.13, 0.8), (3.82, 0.97), (3.89, 1.54), (3.89, 2.3),
    (4.61, 0.34), (4.87, 0.23), (5.13, 0.11), (5.66, 0.11), (6.32, 0.34), (6.05, 0.46), (5.39, 0.46),
    (5.92, 0.8), (6.0, 0.89), (5.58, 1.71), (6.13, 1.9), (6.92, 1.06), (7.24, 1.6), (8.0, 1.4),
    (7.63, 0.46), (7.24, 0.68), (7.1, 0.63), (7.03, 0.34), (7.24, 0.51), (7.5, 0.4), (7.76, 0.11),
    (8.03, 0.23), (8.24, 0.11), (8.42, 0.06),
    (9.08, 0.68), (9.55, 0.32), (10.0, 0.34), (10.47, 0.23), (10.53, 0.68),
    (11.26, 1.31), (11.18, 1.2), (11.71, 1.25), (11.79, 1.6), (11.71, 0.32), (11.71, 0.0), (12.05, 0.23),
    (12.37, 0.11), (12.63, 0.17), (13.03, 0.0), (13.42, 0.11), (13.55, 0.29), (12.9, 0.34), (13.29, 0.57),
    (13.03, 0.57), (12.97, 1.73),
    (14.47, 0.11), (14.47, 0.32), (14.08, 0.91), (14.47, 0.86), (14.82, 0.57), (15.13, 0.46), (15.4, 0.34),
    (15.45, 1.14), (15.58, 1.65), (15.58, 1.43), (15.58, 1.14), (15.45, 0.8), (15.58, 0.57), (15.66, 0.4),
    (15.92, 0.34), (16.45, 0.46), (16.97, 0.34), (16.71, 0.46), (16.66, 0.91), (16.32, 0.06), (16.71, 0.0),
    (16.92, 0.06), (17.24, 0.11), (17.63, 0.06), (17.76, 0.11), (18.29, 0.0), (18.55, 0.06), (19.0, 0.11),
    (18.87, 0.51), (18.55, 0.89),
    (20.08, 0.06), (20.97, 0.0), (20.84, 0.51), (21.24, 0.91), (21.24, 1.05), (22.1, 0.11), (22.45, 0.68),
    (24.68, 0.49), (25.45, 0.68), (25.53, 0.11), (26.45, 0.34), (26.92, 0.05), (27.84, 0.34),
    (28.8, 0.29), (29.47, 0.21), (29.74, 0.6), (29.87, 1.05), (29.87, 1.23), (30.47, 1.08),
    (32.1, 0.06), (32.1, 0.23), (33.03, 0.11), (33.3, 0.46), (33.03, 0.57), (34.2, 0.46), (35.05, 0.78),
    (34.6, 1.03), (34.08, 1.0), (34.6, 1.14), (34.03, 1.54), (33.03, 1.37), (32.5, 1.65), (33.03, 1.85),
    (32.71, 1.88), (34.87, 2.88), (33.03, 2.94), (33.68, 3.45), (33.5, 3.82), (33.76, 4.36),
    (36.45, 1.9), (36.24, 0.49), (36.63, 0.36), (36.58, 0.11), (36.7, 0.17),
]

panels = [snps_2_07 + snps_2_07_band, snps_8_07 + snps_8_07_band,
          snps_2_02 + snps_2_02_band, snps_8_02]

# axes boxes in pixels: left, top, right, bottom (x = 0..37.5 Mb, y = 0..13)
boxes = [(135, 88, 616, 468), (791, 88, 1272, 468), (135, 650, 616, 1030), (791, 650, 1272, 1030)]
title_xy = [(376, 40), (1031, 40), (376, 602), (1031, 602)]


def px_rect(box):
    x0, y0, x1, y1 = box
    return [x0 / W, 1 - y1 / H, (x1 - x0) / W, (y1 - y0) / H]


def draw_panel(ax, snps, thr):
    pos = [p for p, _ in snps]
    val = [v for _, v in snps]
    ax.scatter(pos, val, s=46, c=GREY, linewidths=0, clip_on=False, zorder=2)
    ax.axhline(thr, color="black", lw=1.5, dashes=(3.5, 3), zorder=3)
    ax.vlines(LOCUS_MB, 0, LOCUS_TOP, color="red", lw=1.5, linestyles=(0, (3.5, 3)), zorder=3)

    ax.set_xlim(0, 37.5)
    ax.set_ylim(0, 13)
    for side in ("top", "right"):
        ax.spines[side].set_visible(False)
    ax.spines["left"].set_position(("outward", 14.4))
    ax.spines["bottom"].set_position(("outward", 12.2))
    ax.spines["left"].set_bounds(0, 13)
    ax.spines["bottom"].set_bounds(0, 37.5)
    for side in ("left", "bottom"):
        ax.spines[side].set_linewidth(1.4)

    ax.xaxis.set_major_locator(MultipleLocator(5))
    ax.xaxis.set_minor_locator(MultipleLocator(2.5))
    ax.yaxis.set_major_locator(MultipleLocator(1))
    ax.tick_params(axis="x", which="both", length=5.8, width=1.4, pad=9, labelsize=14)
    ax.tick_params(axis="y", which="both", length=5.5, width=1.4, pad=5, labelsize=9.5)

    ax.set_xlabel("Position (Mb)", fontsize=18)
    ax.xaxis.set_label_coords(0.5, -88 / 380)
    ax.xaxis.label.set_verticalalignment("center")
    ax.set_ylabel(r"-log$_{10}$(P)", fontsize=18)
    ax.yaxis.set_label_coords(-95 / 481, 0.5)
    ax.yaxis.label.set_verticalalignment("center")


def caption_font():
    # a narrow face like the journal's caption font, if one is installed
    for fam in ("Liberation Sans Narrow", "Roboto Condensed", "Open Sans Condensed"):
        try:
            fm.findfont(fm.FontProperties(family=fam), fallback_to_default=False)
            return {"family": [fam, "DejaVu Sans"]}
        except ValueError:
            pass
    path = fm.findfont(fm.FontProperties(family="DejaVu Sans", stretch="condensed"))
    if "Condensed" in path:
        return {"family": ["DejaVu Sans"], "fontstretch": "condensed"}
    return {"family": ["Liberation Sans", "DejaVu Sans"]}


fig = plt.figure(figsize=(W / 100, H / 100), dpi=100)

border = FancyBboxPatch((8 / W, -10 / H), 1283 / W, (H + 10 - 9) / H,
                        boxstyle="round,pad=0,rounding_size=0.005",
                        transform=fig.transFigure, fill=False,
                        edgecolor="#555555", lw=1.0)
fig.patches.append(border)

for snps, thr, box, title, (tx, ty) in zip(panels, thresholds, boxes, titles, title_xy):
    ax = fig.add_axes(px_rect(box))
    draw_panel(ax, snps, thr)
    fig.text(tx / W, 1 - ty / H, title, fontsize=22.5, fontweight="bold",
             ha="center", va="center")

cap_kw = caption_font()
line1 = [("Fig. 3", "normal", "bold"),
         (" Genome-wide association of apple skin color. Results are shown for chromosome 9 "
          "and the known locus for skin color at 32.8 Mb is indicated", "normal", "normal")]
line2 = [("with a", "normal", "normal"), (" dotted red vertical line", "italic", "normal"),
         (".", "normal", "normal"), (" The", "normal", "normal"),
         (" dotted black horizontal line", "italic", "normal"),
         (" indicates the genome-wide Bonferonni-corrected significance threshold at", "normal", "normal"),
         (" P", "italic", "normal"), (" = 0.05", "normal", "normal")]

renderer = fig.canvas.get_renderer()


def draw_runs(runs, x_px, y_px, size):
    x = x_px
    made = []
    for text, style, weight in runs:
        t = fig.text(x / W, 1 - y_px / H, text, fontsize=size, fontstyle=style,
                     fontweight=weight, ha="left", va="center", **cap_kw)
        made.append(t)
        x += t.get_window_extent(renderer).width
    return x, made


# size chosen so that the first line spans the caption width
end, probe = draw_runs(line1, 25, 1158, 13.5)
for t in probe:
    t.remove()
cap_size = 13.5 * 1251 / (end - 25)
draw_runs(line1, 25, 1158, cap_size)
draw_runs(line2, 25, 1186, cap_size)

fig.savefig("out.png", dpi=100)
